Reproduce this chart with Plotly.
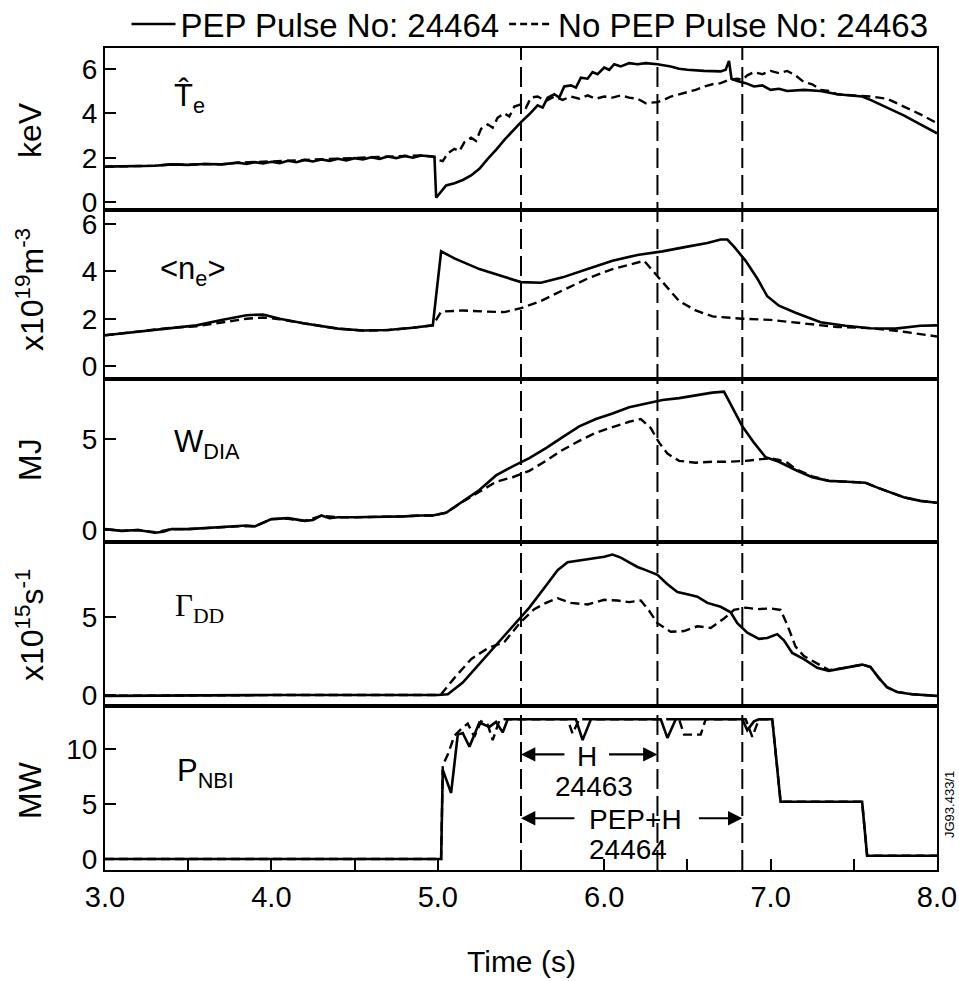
import plotly.graph_objects as go
from plotly.subplots import make_subplots

# ---------------- data ----------------
te_pep_t = [3.00, 3.10, 3.20, 3.30, 3.40, 3.50, 3.60, 3.70, 3.80, 3.85, 3.90, 3.95, 4.00, 4.05, 4.10,
            4.15, 4.20, 4.25, 4.30, 4.35, 4.40, 4.45, 4.50, 4.55, 4.60, 4.65, 4.70, 4.75, 4.80, 4.85,
            4.90, 4.95, 4.98, 4.99, 5.02, 5.05, 5.10, 5.15, 5.20, 5.25, 5.30, 5.35, 5.40, 5.45, 5.50,
            5.55, 5.60, 5.63, 5.66, 5.70, 5.73, 5.76, 5.80, 5.83, 5.86, 5.90, 5.93, 5.96, 6.00, 6.03,
            6.06, 6.10, 6.15, 6.20, 6.25, 6.32, 6.40, 6.45, 6.50, 6.60, 6.70, 6.73, 6.75, 6.765, 6.80,
            6.85, 6.90, 6.95, 7.00, 7.05, 7.10, 7.20, 7.30, 7.40, 7.50, 7.55, 7.60, 7.70, 7.80, 7.90, 8.00]
te_pep_v = [1.60, 1.62, 1.65, 1.64, 1.70, 1.68, 1.72, 1.70, 1.78, 1.72, 1.80, 1.74, 1.82, 1.76, 1.86,
            1.80, 1.90, 1.83, 1.92, 1.86, 1.95, 1.88, 1.98, 1.92, 2.02, 1.95, 2.05, 1.98, 2.08, 2.00,
            2.10, 2.05, 2.05, 0.20, 0.50, 0.75, 0.85, 1.00, 1.20, 1.50, 1.95, 2.35, 2.80, 3.20, 3.60,
            3.95, 4.35, 4.25, 4.70, 4.85, 4.70, 5.20, 5.25, 5.15, 5.60, 5.55, 5.85, 5.75, 6.05, 5.95,
            6.20, 6.10, 6.25, 6.20, 6.25, 6.20, 6.10, 6.00, 5.95, 5.90, 5.88, 5.95, 6.35, 5.55, 5.45,
            5.35, 5.20, 5.25, 5.05, 5.10, 5.00, 5.05, 5.00, 4.85, 4.80, 4.75, 4.60, 4.25, 3.90, 3.50, 3.10]

te_nopep_t = [3.00, 3.10, 3.20, 3.30, 3.40, 3.50, 3.60, 3.70, 3.80, 3.90, 4.00, 4.10, 4.20, 4.30, 4.40,
              4.50, 4.60, 4.70, 4.80, 4.90, 4.97, 5.00, 5.03, 5.06, 5.10, 5.13, 5.16, 5.20, 5.23, 5.26,
              5.30, 5.33, 5.36, 5.40, 5.43, 5.46, 5.50, 5.53, 5.56, 5.60, 5.65, 5.70, 5.75, 5.80, 5.85,
              5.90, 5.95, 6.00, 6.05, 6.10, 6.15, 6.20, 6.25, 6.32, 6.36, 6.40, 6.45, 6.50, 6.55, 6.60,
              6.65, 6.70, 6.75, 6.80, 6.83, 6.86, 6.90, 6.95, 7.00, 7.05, 7.10, 7.15, 7.20, 7.25, 7.30,
              7.35, 7.40, 7.50, 7.60, 7.70, 7.80, 7.90, 8.00]
te_nopep_v = [1.60, 1.62, 1.65, 1.64, 1.70, 1.68, 1.72, 1.70, 1.78, 1.80, 1.82, 1.86, 1.90, 1.92, 1.95,
              1.98, 2.02, 2.05, 2.08, 2.10, 2.05, 1.90, 1.85, 2.20, 2.40, 2.30, 2.70, 2.90, 2.75, 3.30,
              3.50, 3.35, 3.80, 4.00, 3.85, 4.30, 4.40, 4.25, 4.70, 4.75, 4.55, 4.75, 4.60, 4.75, 4.65,
              4.80, 4.65, 4.75, 4.70, 4.80, 4.70, 4.65, 4.45, 4.50, 4.60, 4.75, 4.85, 4.95, 5.05, 5.20,
              5.30, 5.35, 5.50, 5.55, 5.50, 5.70, 5.85, 5.75, 5.90, 5.80, 5.90, 5.70, 5.40, 5.30, 5.05,
              5.00, 4.85, 4.80, 4.75, 4.65, 4.30, 3.95, 3.55]

ne_pep_t = [3.00, 3.20, 3.40, 3.55, 3.70, 3.85, 3.95, 4.05, 4.20, 4.40, 4.55, 4.70, 4.85, 4.97, 5.02,
            5.10, 5.25, 5.40, 5.50, 5.62, 5.75, 5.90, 6.05, 6.20, 6.35, 6.50, 6.62, 6.70, 6.74, 6.78,
            6.85, 6.92, 6.98, 7.05, 7.15, 7.30, 7.45, 7.60, 7.75, 7.90, 8.00]
ne_pep_v = [1.30, 1.45, 1.62, 1.72, 1.95, 2.15, 2.18, 2.00, 1.80, 1.58, 1.50, 1.52, 1.62, 1.72, 4.85,
            4.55, 4.10, 3.75, 3.55, 3.52, 3.75, 4.10, 4.45, 4.70, 4.85, 5.05, 5.20, 5.35, 5.35, 5.05,
            4.45, 3.70, 2.95, 2.55, 2.25, 1.85, 1.70, 1.60, 1.58, 1.70, 1.72]

ne_nopep_t = [3.00, 3.20, 3.40, 3.55, 3.70, 3.85, 3.95, 4.05, 4.20, 4.40, 4.55, 4.70, 4.85, 4.97, 5.02,
              5.15, 5.30, 5.40, 5.50, 5.62, 5.75, 5.90, 6.05, 6.20, 6.24, 6.32, 6.45, 6.55, 6.65, 6.83,
              7.00, 7.20, 7.40, 7.60, 7.80, 8.00]
ne_nopep_v = [1.30, 1.45, 1.62, 1.68, 1.85, 2.00, 2.05, 1.98, 1.80, 1.58, 1.50, 1.52, 1.62, 1.72, 2.30,
              2.35, 2.30, 2.28, 2.45, 2.75, 3.20, 3.70, 4.10, 4.40, 4.45, 3.80, 2.75, 2.35, 2.10, 2.00,
              1.95, 1.80, 1.65, 1.60, 1.45, 1.25]

w_pep_t = [3.00, 3.10, 3.20, 3.30, 3.35, 3.40, 3.50, 3.60, 3.70, 3.80, 3.85, 3.90, 4.00, 4.10, 4.20,
           4.25, 4.30, 4.35, 4.40, 4.50, 4.60, 4.70, 4.80, 4.90, 4.97, 5.05, 5.15, 5.25, 5.35, 5.45,
           5.55, 5.65, 5.75, 5.85, 5.95, 6.05, 6.15, 6.25, 6.35, 6.45, 6.55, 6.65, 6.72, 6.74, 6.78,
           6.83, 6.90, 6.97, 7.05, 7.15, 7.25, 7.35, 7.46, 7.57, 7.65, 7.72, 7.80, 7.90, 8.00]
w_pep_v = [0.05, -0.05, 0.00, -0.15, -0.10, 0.05, 0.05, 0.10, 0.15, 0.20, 0.25, 0.20, 0.60, 0.65, 0.50,
           0.55, 0.80, 0.65, 0.70, 0.70, 0.72, 0.70, 0.75, 0.80, 0.80, 0.95, 1.60, 2.20, 3.00, 3.50,
           3.95, 4.50, 5.10, 5.70, 6.10, 6.40, 6.75, 6.95, 7.15, 7.25, 7.40, 7.55, 7.60, 7.25, 6.60,
           5.70, 4.80, 4.00, 3.75, 3.30, 2.90, 2.70, 2.65, 2.60, 2.30, 2.05, 1.80, 1.60, 1.50]

w_nopep_t = [3.00, 3.10, 3.20, 3.30, 3.40, 3.50, 3.60, 3.70, 3.80, 3.90, 4.00, 4.10, 4.20, 4.30, 4.40,
             4.50, 4.60, 4.70, 4.80, 4.90, 4.97, 5.05, 5.15, 5.25, 5.35, 5.45, 5.55, 5.65, 5.75, 5.85,
             5.95, 6.05, 6.15, 6.22, 6.28, 6.33, 6.38, 6.45, 6.55, 6.65, 6.75, 6.85, 6.95, 7.00, 7.05,
             7.10, 7.15, 7.25, 7.35, 7.46, 7.57, 7.65, 7.72, 7.80, 7.90, 8.00]
w_nopep_v = [0.05, -0.05, 0.00, -0.12, 0.05, 0.05, 0.10, 0.15, 0.20, 0.20, 0.60, 0.62, 0.50, 0.78, 0.70,
             0.70, 0.72, 0.70, 0.75, 0.80, 0.80, 0.95, 1.55, 2.10, 2.65, 2.90, 3.25, 3.80, 4.40, 4.90,
             5.35, 5.65, 5.95, 6.10, 5.60, 4.80, 4.20, 3.80, 3.70, 3.75, 3.75, 3.80, 3.90, 3.95, 3.85,
             3.70, 3.35, 2.95, 2.70, 2.65, 2.60, 2.30, 2.05, 1.80, 1.60, 1.50]

g_pep_t = [3.00, 4.00, 5.00, 5.06, 5.15, 5.25, 5.35, 5.45, 5.55, 5.65, 5.72, 5.78, 5.85, 5.92, 6.00,
           6.05, 6.10, 6.15, 6.20, 6.25, 6.32, 6.38, 6.44, 6.50, 6.56, 6.62, 6.70, 6.76, 6.80, 6.86,
           6.93, 6.98, 7.04, 7.08, 7.13, 7.20, 7.28, 7.35, 7.45, 7.55, 7.60, 7.65, 7.70, 7.76, 7.85, 8.00]
g_pep_v = [-0.05, 0.00, 0.00, 0.05, 0.80, 2.00, 3.20, 4.40, 5.60, 7.00, 8.00, 8.50, 8.60, 8.70, 8.85,
           9.00, 8.80, 8.50, 8.20, 8.00, 7.70, 7.10, 6.60, 6.45, 6.30, 5.90, 5.65, 5.30, 4.60, 4.00,
           3.60, 3.65, 3.90, 3.50, 2.70, 2.30, 1.75, 1.55, 1.75, 1.95, 1.80, 1.10, 0.50, 0.20, 0.05, -0.05]

g_nopep_t = [3.00, 4.00, 5.00, 5.02, 5.10, 5.20, 5.30, 5.40, 5.50, 5.58, 5.65, 5.72, 5.80, 5.90, 6.00,
             6.08, 6.15, 6.22, 6.27, 6.32, 6.40, 6.48, 6.56, 6.64, 6.72, 6.78, 6.85, 6.92, 7.00, 7.06,
             7.10, 7.15, 7.20, 7.28, 7.35, 7.45, 7.55, 7.60, 7.65, 7.70, 7.76, 7.85, 8.00]
g_nopep_v = [-0.05, 0.00, 0.00, 0.05, 1.10, 2.30, 3.00, 3.40, 4.70, 5.50, 5.90, 6.20, 5.90, 5.80, 6.10,
             6.05, 5.95, 6.05, 5.40, 4.60, 4.05, 4.10, 4.40, 4.30, 4.90, 5.45, 5.60, 5.50, 5.55, 5.45,
             4.50, 3.10, 2.50, 2.00, 1.60, 1.75, 1.95, 1.80, 1.10, 0.50, 0.20, 0.05, -0.05]

p_pep_t = [3.00, 5.02, 5.03, 5.08, 5.12, 5.15, 5.19, 5.25, 5.31, 5.35, 5.39, 5.42, 5.83, 5.87, 5.92,
           6.34, 6.38, 6.43, 6.83, 6.86, 6.90, 6.93, 7.01, 7.06, 7.55, 7.58, 8.00]
p_pep_v = [0.00, 0.00, 8.10, 6.00, 11.30, 11.45, 10.20, 12.40, 12.00, 12.45, 11.50, 12.70, 12.70, 10.80, 12.70,
           12.70, 11.00, 12.70, 12.70, 11.70, 12.50, 12.70, 12.70, 5.20, 5.20, 0.30, 0.30]

p_nopep_t = [3.00, 5.02, 5.03, 5.06, 5.10, 5.14, 5.18, 5.22, 5.26, 5.30, 5.33, 5.37, 5.40, 5.78, 5.81,
             5.85, 6.45, 6.48, 6.58, 6.61, 6.85, 6.89, 6.93, 7.01, 7.06, 7.55, 7.58, 8.00]
p_nopep_v = [0.00, 0.00, 8.50, 9.50, 11.20, 11.80, 12.30, 11.10, 12.50, 12.20, 10.80, 12.60, 12.70, 12.70, 11.40,
             12.70, 12.70, 11.30, 11.30, 12.70, 12.70, 11.10, 12.70, 12.70, 5.20, 5.20, 0.30, 0.30]

phase_marks = [5.5, 6.32, 6.83]          # vertical dashed lines (s)
x_tick_vals = [3.0, 3.5, 4.0, 4.5, 5.0, 5.5, 6.0, 6.5, 7.0, 7.5, 8.0]
x_tick_text = ["3.0", " ", "4.0", " ", "5.0", " ", "6.0", " ", "7.0", " ", "8.0"]

y_titles = ["keV", "x10<sup>19</sup>m<sup>-3</sup>", "MJ", "x10<sup>15</sup>s<sup>-1</sup>", "MW"]
panel_labels = ["T\u0302<sub>e</sub>", "&lt;n<sub>e</sub>&gt;", "W<sub>DIA</sub>",
                "\u0393<sub>DD</sub>", "P<sub>NBI</sub>"]
y_tick_vals = [[0, 2, 4, 6], [0, 2, 4, 6], [0, 5], [0, 5], [0, 5, 10]]
y_ranges = [[-0.35, 6.93], [-0.55, 6.6], [-0.66, 8.3], [-0.7, 9.8], [-1.0, 13.9]]
label_pos = [(3.40, 4.7), (3.32, 4.0), (3.40, 4.7), (3.41, 5.6), (3.42, 7.8)]
name_pep = "PEP Pulse No: 24464"
name_nopep = "No PEP Pulse No: 24463"

# ---------------- geometry ----------------
FIG_W, FIG_H = 959, 981
PL, PT, PW, PH = 105, 48, 832, 822   # plot area in pixels

def px_x(px):
    return (px - PL) / PW

def px_y(py):
    return 1 - (py - PT) / PH

# ---------------- figure ----------------
FONT = "Liberation Sans, Arial, Helvetica, sans-serif"
fig = make_subplots(rows=5, cols=1, shared_xaxes=True, vertical_spacing=0,
                    row_heights=[162, 169, 163, 164, 164])

series = [(te_pep_t, te_pep_v, te_nopep_t, te_nopep_v),
          (ne_pep_t, ne_pep_v, ne_nopep_t, ne_nopep_v),
          (w_pep_t, w_pep_v, w_nopep_t, w_nopep_v),
          (g_pep_t, g_pep_v, g_nopep_t, g_nopep_v),
          (p_pep_t, p_pep_v, p_nopep_t, p_nopep_v)]

for i, (t1, v1, t2, v2) in enumerate(series):
    r = i + 1
    fig.add_trace(go.Scatter(x=t2, y=v2, mode="lines", name=name_nopep,
                             line=dict(color="black", width=2.4, dash="9px,5px"),
                             showlegend=False), row=r, col=1)
    fig.add_trace(go.Scatter(x=t1, y=v1, mode="lines", name=name_pep,
                             line=dict(color="black", width=2.6),
                             showlegend=(i == 0), legendrank=1), row=r, col=1)
# legend entry for dashed series (order: solid first)
fig.add_trace(go.Scatter(x=[None], y=[None], mode="lines", name=name_nopep,
                         line=dict(color="black", width=2.4, dash="7px,4px"),
                         showlegend=True, legendrank=2), row=1, col=1)

for i in range(5):
    r = i + 1
    fig.update_yaxes(row=r, col=1, range=y_ranges[i], tickvals=y_tick_vals[i],
                     ticks="inside", ticklen=11, tickwidth=2, tickcolor="black",
                     showline=True, linecolor="black", linewidth=2, mirror=True,
                     showgrid=False, zeroline=False,
                     tickfont=dict(family=FONT, size=28, color="black"))
    fig.update_xaxes(row=r, col=1, range=[3.0, 8.0], showline=True, linecolor="black",
                     linewidth=2, mirror=True, showgrid=False, zeroline=False,
                     ticks="", showticklabels=False)
fig.update_xaxes(row=5, col=1, tickvals=x_tick_vals, ticktext=x_tick_text, ticks="inside",
                 ticklen=11, tickwidth=2, tickcolor="black", showticklabels=True,
                 tickfont=dict(family=FONT, size=29, color="black"))

shapes = []
for m in phase_marks:
    shapes.append(dict(type="line", xref="x", yref="paper", x0=m, x1=m, y0=0, y1=1,
                       line=dict(color="black", width=2, dash="20px,7px"), layer="above"))

annotations = []
# axis titles
title_y = [130, 290, 460, 625, 790]
for i, t in enumerate(y_titles):
    annotations.append(dict(text=t, xref="paper", yref="paper", x=px_x(30),
                            y=px_y(title_y[i]), showarrow=False, textangle=-90,
                            xanchor="center", yanchor="middle",
                            font=dict(family=FONT, size=32, color="black")))
# panel labels
for i, lab in enumerate(panel_labels):
    ax_suffix = "" if i == 0 else str(i + 1)
    fam = "Liberation Serif, Times New Roman, serif" if i == 3 else FONT
    annotations.append(dict(text=lab, xref="x" + ax_suffix, yref="y" + ax_suffix,
                            x=label_pos[i][0], y=label_pos[i][1], showarrow=False,
                            xanchor="left", yanchor="middle",
                            font=dict(family=fam, size=31, color="black")))

# H / PEP+H arrows in bottom panel
h_y, pep_y = 9.5, 3.7
arrow_style = dict(showarrow=True, arrowhead=2, arrowsize=1.3, arrowwidth=2.2,
                   arrowcolor="black", xref="x5", yref="y5", axref="x5", ayref="y5", text="")
annotations += [
    dict(x=phase_marks[0], y=h_y, ax=5.77, ay=h_y, **arrow_style),
    dict(x=phase_marks[1], y=h_y, ax=6.02, ay=h_y, **arrow_style),
    dict(x=phase_marks[0], y=pep_y, ax=5.83, ay=pep_y, **arrow_style),
    dict(x=phase_marks[2], y=pep_y, ax=6.56, ay=pep_y, **arrow_style),
]
for txt, tx, ty in [("H", 5.895, 9.3), ("24463", 5.94, 6.6), ("PEP+H", 6.19, 3.6), ("24464", 6.14, 0.85)]:
    annotations.append(dict(text=txt, x=tx, y=ty, xref="x5", yref="y5", showarrow=False,
                            xanchor="center", yanchor="middle",
                            font=dict(family=FONT, size=28, color="black")))
# x axis title
annotations.append(dict(text="Time (s)", xref="paper", yref="paper", x=px_x(521),
                        y=px_y(961), showarrow=False, xanchor="center", yanchor="middle",
                        font=dict(family=FONT, size=30, color="black")))
# figure id
annotations.append(dict(text="JG93.433/1", xref="paper", yref="paper", x=px_x(949),
                        y=px_y(805), showarrow=False, textangle=-90,
                        xanchor="center", yanchor="middle",
                        font=dict(family=FONT, size=13, color="black")))

fig.update_layout(
    width=FIG_W, height=FIG_H,
    margin=dict(l=PL, r=FIG_W - PL - PW, t=PT, b=FIG_H - PT - PH, autoexpand=False),
    paper_bgcolor="white", plot_bgcolor="white",
    shapes=shapes, annotations=annotations,
    showlegend=True,
    legend=dict(orientation="h", x=px_x(530), xanchor="center", y=px_y(52), yanchor="bottom",
                font=dict(family=FONT, size=33, color="black"), itemwidth=44,
                bgcolor="rgba(0,0,0,0)", traceorder="normal"),
)

# remove the default 8px page margin so the figure fills the window exactly
fig.write_html("out.html", config={"displayModeBar": False},
               post_script="document.body.style.margin='0';document.body.style.overflow='hidden';")
